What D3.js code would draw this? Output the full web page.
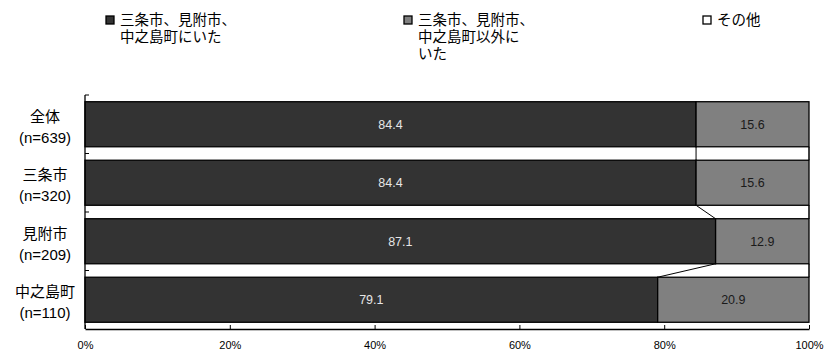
<!DOCTYPE html>
<html>
<head>
<meta charset="utf-8">
<script src="https://cdn.jsdelivr.net/npm/d3@7"></script>
<style>
  html, body { margin: 0; padding: 0; background: #fff; }
  svg { display: block; }
  text { font-family: "Liberation Sans", Arial, "Noto Sans CJK JP", sans-serif; }
</style>
</head>
<body>
<svg id="chart" width="824" height="350"></svg>
<script>
// Categories (two-line labels) and the share of each answer, in percent
const categories = ["全体", "三条市", "見附市", "中之島町"];
const sampleSizes = ["(n=639)", "(n=320)", "(n=209)", "(n=110)"];
const seriesNames = [
  ["三条市、見附市、", "中之島町にいた"],
  ["三条市、見附市、", "中之島町以外に", "いた"],
  ["その他"]
];
const inCities   = [84.4, 84.4, 87.1, 79.1];
const outCities  = [15.6, 15.6, 12.9, 20.9];
const otherPlace = [0, 0, 0, 0];
const xTickValues = [0, 20, 40, 60, 80, 100];

const seriesFill = ["#333333", "#808080", "#ffffff"];
const labelFill  = ["#e6e6e6", "#1a1a1a", "#1a1a1a"];

const svg = d3.select("#chart");

const plot = { left: 85, right: 809, top: 95, bottom: 329 };

const x = d3.scaleLinear().domain([0, 100]).range([plot.left, plot.right]);
const y = d3.scaleBand()
  .domain(categories)
  .range([plot.top, plot.bottom])
  .paddingInner(0.23)
  .paddingOuter(0.115);

// Stack the three series
const rows = categories.map((c, i) => ({
  cat: c, s0: inCities[i], s1: outCities[i], s2: otherPlace[i]
}));
const stack = d3.stack().keys(["s0", "s1", "s2"]);
const stacked = stack(rows);

// Series lines joining matching boundaries of neighbouring bars
const lineG = svg.append("g");
stacked.forEach(layer => {
  for (let i = 0; i < categories.length - 1; i++) {
    const a = layer[i], b = layer[i + 1];
    lineG.append("line")
      .attr("x1", x(a[1])).attr("y1", y(categories[i]) + y.bandwidth())
      .attr("x2", x(b[1])).attr("y2", y(categories[i + 1]))
      .attr("stroke", "#000").attr("stroke-width", 1);
  }
});

// Bars
stacked.forEach((layer, si) => {
  const g = svg.append("g");
  g.selectAll("rect")
    .data(layer.filter(d => d[1] - d[0] > 0))
    .join("rect")
    .attr("x", d => x(d[0]))
    .attr("y", d => y(d.data.cat))
    .attr("width", d => x(d[1]) - x(d[0]))
    .attr("height", y.bandwidth())
    .attr("fill", seriesFill[si])
    .attr("stroke", "#000")
    .attr("stroke-width", 1.3);
  g.selectAll("text")
    .data(layer.filter(d => d[1] - d[0] > 0))
    .join("text")
    .attr("x", d => (x(d[0]) + x(d[1])) / 2)
    .attr("y", d => y(d.data.cat) + y.bandwidth() / 2)
    .attr("dy", "0.35em")
    .attr("text-anchor", "middle")
    .attr("font-size", 12.5)
    .attr("fill", labelFill[si])
    .text(d => (d[1] - d[0]).toFixed(1));
});

// X axis
const xAxis = d3.axisBottom(x)
  .tickValues(xTickValues)
  .tickSize(0)
  .tickFormat(d => d + "%");
const xg = svg.append("g")
  .attr("transform", `translate(0,${plot.bottom})`)
  .call(xAxis);
xg.select(".domain").attr("stroke", "#000").attr("stroke-width", 1.3);
xg.selectAll(".tick line").remove();
xg.selectAll(".tick").append("line")
  .attr("y1", 0).attr("y2", -4).attr("stroke", "#000");
xg.selectAll(".tick text")
  .attr("y", 16)
  .attr("dy", "0.35em")
  .attr("font-size", 11)
  .attr("fill", "#000")
  .attr("font-family", "'Liberation Sans', Arial, sans-serif");

// Y axis line and boundary ticks
svg.append("line")
  .attr("x1", plot.left).attr("x2", plot.left)
  .attr("y1", plot.top).attr("y2", plot.bottom)
  .attr("stroke", "#000").attr("stroke-width", 1.3);
const boundaries = categories.map(c => y(c) - (y.step() - y.bandwidth()) / 2);
svg.append("g").selectAll("line")
  .data(boundaries)
  .join("line")
  .attr("x1", plot.left).attr("x2", plot.left + 4)
  .attr("y1", d => d).attr("y2", d => d)
  .attr("stroke", "#000");

// Category labels
const catG = svg.append("g");
categories.forEach((c, i) => {
  const cy = y(c) + y.bandwidth() / 2 + 2;
  const t = catG.append("text")
    .attr("x", 45)
    .attr("y", cy)
    .attr("text-anchor", "middle")
    .attr("font-size", 15)
    .attr("fill", "#000");
  t.append("tspan").attr("x", 45).attr("dy", "-0.3em").text(c);
  t.append("tspan").attr("x", 45).attr("dy", "1.4em").text(sampleSizes[i]);
});

// Legend
const legendX = [106, 404, 703];
const legend = svg.append("g");
seriesNames.forEach((lines, i) => {
  legend.append("rect")
    .attr("x", legendX[i]).attr("y", 16)
    .attr("width", 8).attr("height", 8)
    .attr("fill", seriesFill[i])
    .attr("stroke", "#000").attr("stroke-width", 1.3);
  const t = legend.append("text")
    .attr("x", legendX[i] + 14)
    .attr("y", 25)
    .attr("font-size", 14.5)
    .attr("fill", "#000");
  lines.forEach((ln, k) => {
    t.append("tspan")
      .attr("x", legendX[i] + 14)
      .attr("dy", k === 0 ? 0 : 17)
      .text(ln);
  });
});
</script>
</body>
</html>
